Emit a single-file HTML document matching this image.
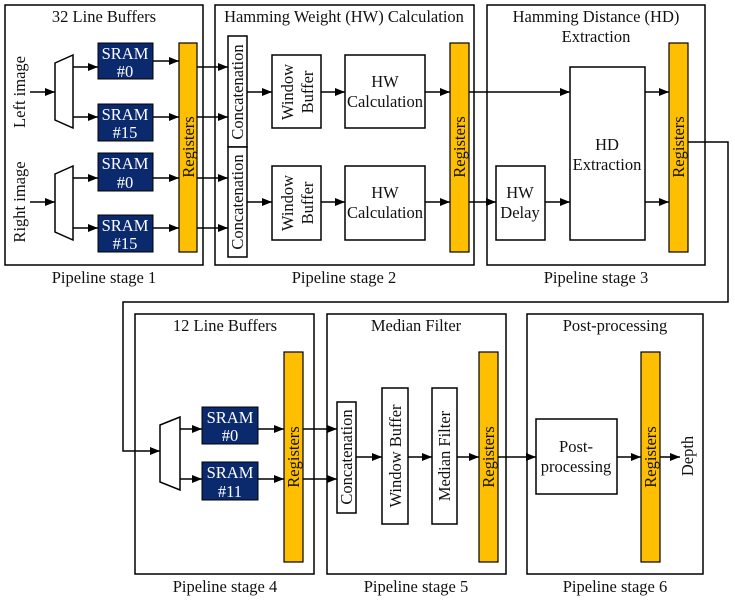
<!DOCTYPE html>
<html><head><meta charset="utf-8"><style>
html,body{margin:0;padding:0;background:#fff;}
svg{display:block;font-family:"Liberation Serif",serif;}
text{font-size:16.5px;fill:#111;}
.s{fill:#fff;font-size:16.5px;}
</style></head><body>
<svg width="735" height="602" viewBox="0 0 735 602" xmlns="http://www.w3.org/2000/svg">
<defs><marker id="a" markerWidth="10" markerHeight="8" refX="10" refY="4" orient="auto" markerUnits="userSpaceOnUse"><path d="M0,0 L10,4 L0,8 z" fill="#000"/></marker></defs>
<g fill="none" stroke="#000" stroke-width="1.5">
<rect x="5" y="5" width="198" height="260"/>
<rect x="215" y="5" width="259" height="260"/>
<rect x="487" y="5" width="218" height="260"/>
<rect x="135" y="314" width="179" height="260"/>
<rect x="327" y="314" width="179" height="260"/>
<rect x="527" y="314" width="176" height="260"/>
</g>
<g text-anchor="middle">
<text x="104" y="22">32 Line Buffers</text>
<text x="344" y="22">Hamming Weight (HW) Calculation</text>
<text x="596" y="22">Hamming Distance (HD)</text>
<text x="596" y="42">Extraction</text>
<text x="225" y="331">12 Line Buffers</text>
<text x="416" y="331">Median Filter</text>
<text x="615" y="331">Post-processing</text>
<text x="104" y="283">Pipeline stage 1</text>
<text x="344" y="283">Pipeline stage 2</text>
<text x="596" y="283">Pipeline stage 3</text>
<text x="225" y="592">Pipeline stage 4</text>
<text x="416" y="592">Pipeline stage 5</text>
<text x="615" y="592">Pipeline stage 6</text>
</g>
<g fill="#fff" stroke="#000" stroke-width="1.5">
<polygon points="55,63 73,55 73,128 55,120"/>
<polygon points="55,174 73,166 73,240 55,232"/>
</g>
<g fill="#0b2a6e" stroke="#000">
<rect x="98" y="43" width="55" height="36"/>
<rect x="98" y="104" width="55" height="37"/>
<rect x="98" y="153" width="55" height="38"/>
<rect x="98" y="215" width="55" height="37"/>
<rect x="202" y="407" width="56" height="37"/>
<rect x="202" y="462" width="56" height="38"/>
</g>
<g text-anchor="middle">
<text class="s" x="125" y="59">SRAM</text><text class="s" x="125" y="77">#0</text>
<text class="s" x="125" y="120">SRAM</text><text class="s" x="125" y="138">#15</text>
<text class="s" x="125" y="169">SRAM</text><text class="s" x="125" y="188">#0</text>
<text class="s" x="125" y="231">SRAM</text><text class="s" x="125" y="249">#15</text>
<text class="s" x="230" y="423">SRAM</text><text class="s" x="230" y="441">#0</text>
<text class="s" x="230" y="478">SRAM</text><text class="s" x="230" y="497">#11</text>
</g>
<text transform="translate(25,92) rotate(-90)" text-anchor="middle">Left image</text>
<text transform="translate(25,202) rotate(-90)" text-anchor="middle">Right image</text>
<g fill="#fdbf00" stroke="#000" stroke-width="1.2">
<rect x="179" y="43" width="18" height="209"/>
<rect x="450" y="43" width="19" height="209"/>
<rect x="669" y="43" width="19" height="209"/>
<rect x="284" y="352" width="19" height="210"/>
<rect x="479" y="352" width="19" height="210"/>
<rect x="641" y="352" width="19" height="210"/>
</g>
<g text-anchor="middle">
<text transform="translate(194,147) rotate(-90)">Registers</text>
<text transform="translate(465,147) rotate(-90)">Registers</text>
<text transform="translate(684,147) rotate(-90)">Registers</text>
<text transform="translate(299,457) rotate(-90)">Registers</text>
<text transform="translate(494,457) rotate(-90)">Registers</text>
<text transform="translate(656,457) rotate(-90)">Registers</text>
</g>
<g fill="#fff" stroke="#000" stroke-width="1.5">
<rect x="228" y="36" width="19" height="111"/>
<rect x="228" y="147" width="19" height="110"/>
<rect x="272" y="55" width="49" height="73"/>
<rect x="272" y="166" width="49" height="74"/>
<rect x="345" y="55" width="80" height="73"/>
<rect x="345" y="166" width="80" height="74"/>
<rect x="496" y="166" width="49" height="74"/>
<rect x="570" y="67" width="75" height="173"/>
<rect x="337" y="402" width="19" height="111"/>
<rect x="382" y="388" width="26" height="136"/>
<rect x="432" y="388" width="25" height="136"/>
<rect x="536" y="419" width="81" height="75"/>
</g>
<g text-anchor="middle">
<text transform="translate(243,92) rotate(-90)">Concatenation</text>
<text transform="translate(243,202) rotate(-90)">Concatenation</text>
<text transform="translate(293,92) rotate(-90)">Window</text>
<text transform="translate(313,92) rotate(-90)">Buffer</text>
<text transform="translate(293,203) rotate(-90)">Window</text>
<text transform="translate(313,203) rotate(-90)">Buffer</text>
<text x="385" y="87">HW</text><text x="385" y="107">Calculation</text>
<text x="385" y="198">HW</text><text x="385" y="218">Calculation</text>
<text x="520" y="198">HW</text><text x="520" y="218">Delay</text>
<text x="607" y="150">HD</text><text x="607" y="170">Extraction</text>
<text transform="translate(352,457) rotate(-90)">Concatenation</text>
<text transform="translate(401,456) rotate(-90)">Window Buffer</text>
<text transform="translate(450,456) rotate(-90)">Median Filter</text>
<text x="576" y="452">Post-</text><text x="576" y="472">processing</text>
<text transform="translate(693,456) rotate(-90)">Depth</text>
</g>
<polygon points="160,425 180,417 180,490 160,482" fill="#fff" stroke="#000" stroke-width="1.5"/>
<g stroke="#000" stroke-width="1.5" fill="none" marker-end="url(#a)">
<path d="M30,92 H55"/><path d="M30,202 H55"/>
<path d="M73,67 H98"/><path d="M73,117 H98"/><path d="M73,178 H98"/><path d="M73,228 H98"/>
<path d="M153,61 H179"/><path d="M153,117 H179"/><path d="M153,178 H179"/><path d="M153,228 H179"/>
<path d="M197,67 H228"/><path d="M197,117 H228"/><path d="M197,178 H228"/><path d="M197,228 H228"/>
<path d="M247,92 H272"/><path d="M247,202 H272"/>
<path d="M321,92 H345"/><path d="M321,202 H345"/>
<path d="M425,92 H450"/><path d="M425,202 H450"/>
<path d="M469,92 H570"/><path d="M469,202 H496"/>
<path d="M545,202 H570"/>
<path d="M645,92 H669"/><path d="M645,202 H669"/>
<path d="M688,142 H728 V302 H123 V451 H160"/>
<path d="M180,429 H202"/><path d="M180,479 H202"/>
<path d="M258,429 H284"/><path d="M258,479 H284"/>
<path d="M303,429 H337"/><path d="M303,479 H337"/>
<path d="M356,457 H382"/><path d="M408,457 H432"/><path d="M457,457 H479"/>
<path d="M498,457 H536"/><path d="M617,457 H641"/><path d="M660,457 H680"/>
</g>
</svg>
</body></html>
